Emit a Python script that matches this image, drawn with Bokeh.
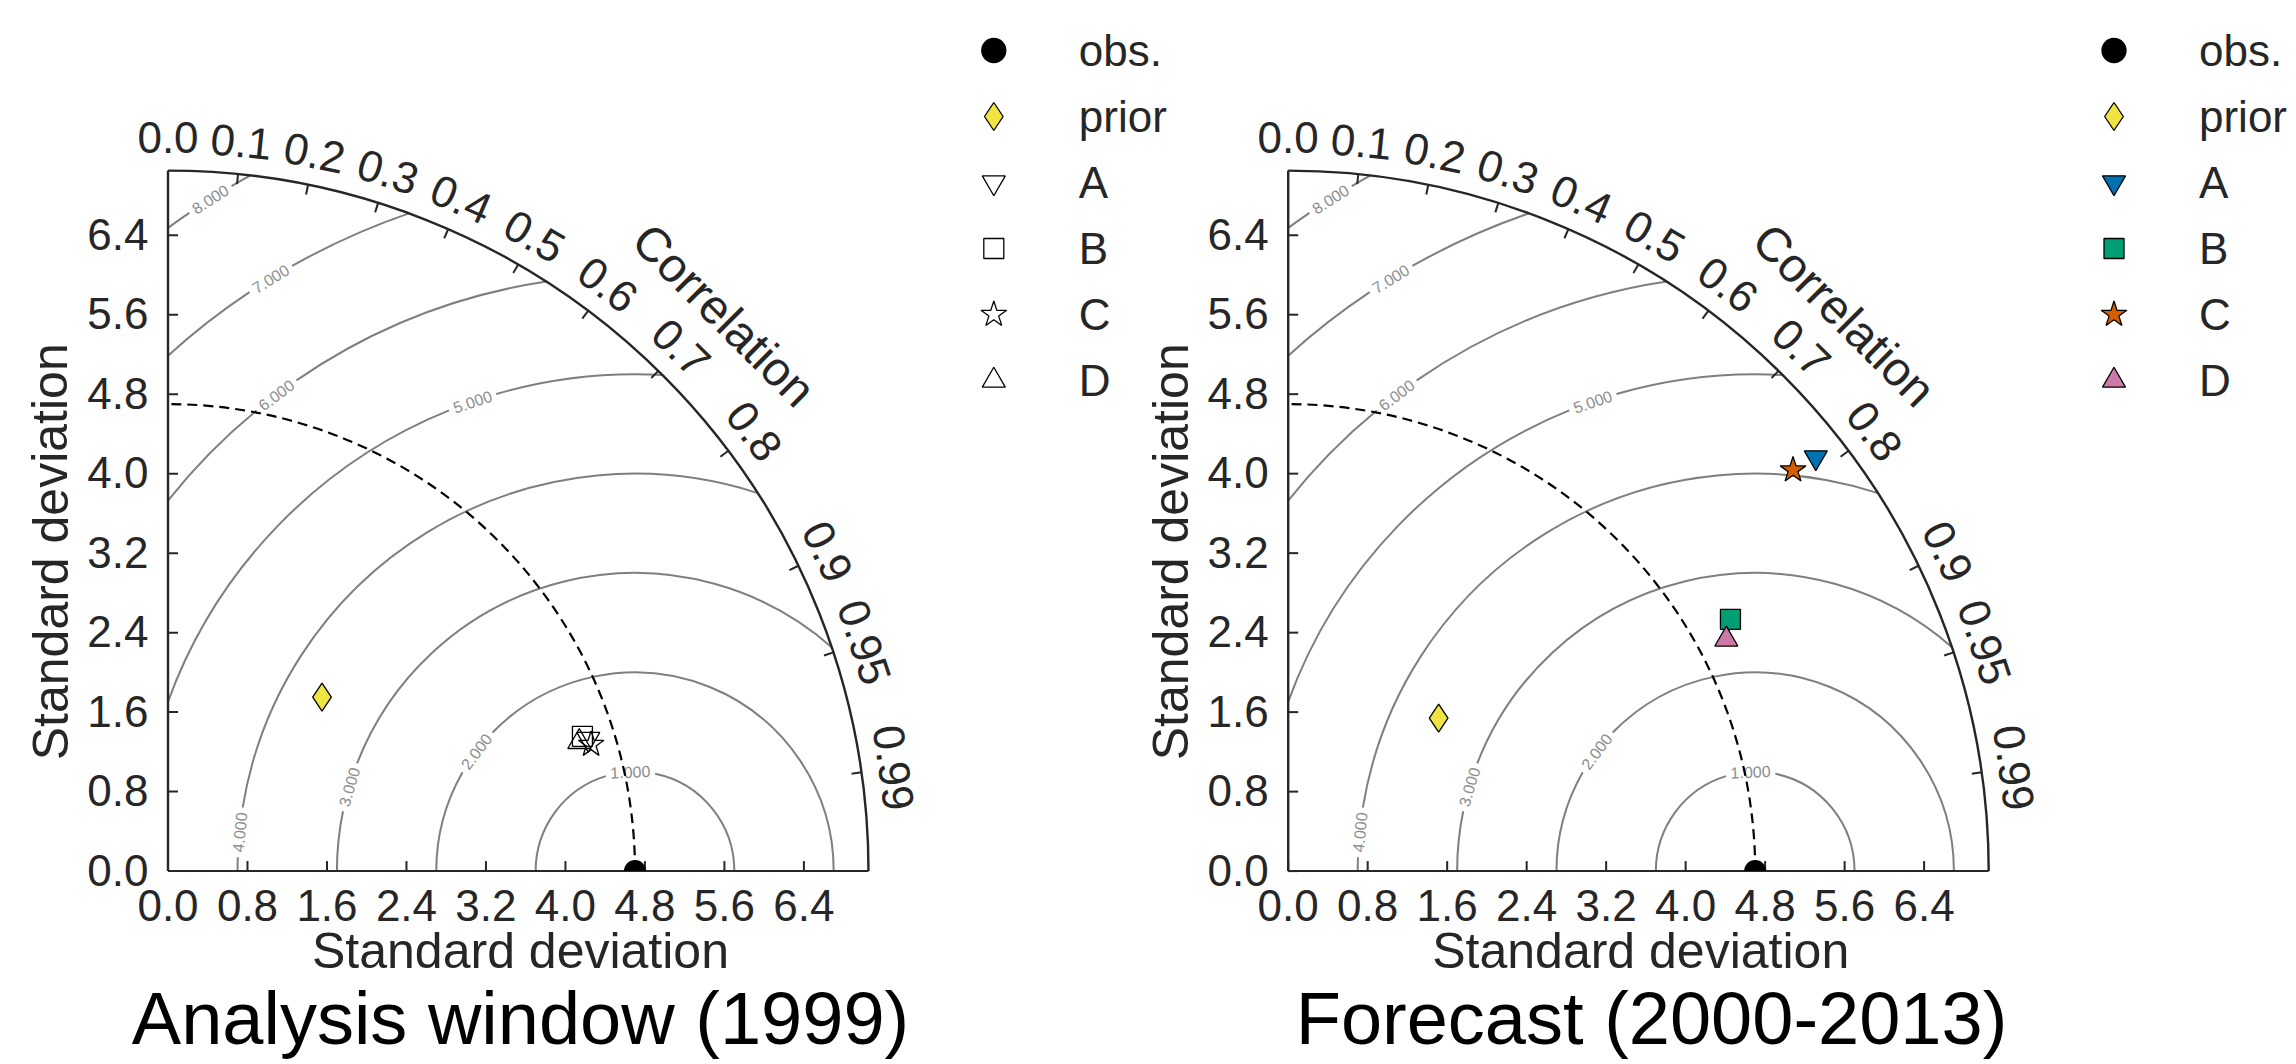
import numpy as np
from bokeh.plotting import figure
from bokeh.models import Range1d
from bokeh.core.properties import value
from bokeh.embed import file_html
from bokeh.resources import INLINE

# ---------------- data ----------------
panel_titles = ["Analysis window (1999)", "Forecast (2000-2013)"]
obs_std = [4.7, 4.7]
std_axis_max = 7.05
std_ticks = [0.0, 0.8, 1.6, 2.4, 3.2, 4.0, 4.8, 5.6, 6.4]
std_tick_labels = ["0.0", "0.8", "1.6", "2.4", "3.2", "4.0", "4.8", "5.6", "6.4"]
corr_ticks = [0.0, 0.1, 0.2, 0.3, 0.4, 0.5, 0.6, 0.7, 0.8, 0.9, 0.95, 0.99]
corr_tick_labels = ["0.0", "0.1", "0.2", "0.3", "0.4", "0.5", "0.6", "0.7", "0.8", "0.9", "0.95", "0.99"]
rms_levels = [1, 2, 3, 4, 5, 6, 7, 8]
rms_level_labels = ["1.000", "2.000", "3.000", "4.000", "5.000", "6.000", "7.000", "8.000"]
legend_names = ["obs.", "prior", "A", "B", "C", "D"]
model_names = ["prior", "A", "B", "C", "D"]
analysis_std = [2.338, 4.434, 4.386, 4.445, 4.339]
analysis_corr = [0.663, 0.954, 0.951, 0.958, 0.954]
forecast_std = [2.160, 6.747, 5.122, 6.489, 4.988]
forecast_corr = [0.701, 0.787, 0.869, 0.783, 0.884]

# ---------------- style / layout ----------------
model_markers = ["diamond", "inverted_triangle", "square", "star", "triangle"]
model_sizes = [28, 23, 20, 27, 23]
forecast_colors = ["#f0e442", "#0072b2", "#009e73", "#d55e00", "#cc79a7"]
analysis_colors = ["#f0e442", "white", "white", "white", "white"]
analysis_alpha = [1, 0, 0, 0, 0]
forecast_alpha = [1, 1, 1, 1, 1]
rms_label_angle_deg = [92.7, 143.0, 163.6, 174.4, 109.1, 127.0, 121.6, 122.3]

FONT = "Liberation Sans"
TXT = "#262626"
W, H = 2294, 1062
S = 99.36                 # pixels per std unit
OL = (167.5, 870.6)       # left origin in page px
OR_X = 1287.7             # right origin x in page px
BSHIFT = 0.38             # baseline compensation (fraction of font size)


def X(px):
    return (px - OL[0]) / S


def Y(py):
    return (OL[1] - py) / S


def L(px):
    return px / S


p = figure(width=W, height=H, x_range=Range1d(X(0), X(W)), y_range=Range1d(Y(H), Y(0)),
           output_backend="svg", toolbar_location=None, min_border=0,
           x_axis_type=None, y_axis_type=None)
p.grid.visible = False
p.outline_line_color = None
p.background_fill_color = "white"
p.border_fill_color = "white"


def txt(x, y, t, fs, color=TXT, align="center", angle=0.0):
    x = np.atleast_1d(np.asarray(x, dtype=float))
    y = np.atleast_1d(np.asarray(y, dtype=float))
    ang = np.broadcast_to(np.asarray(angle, dtype=float), x.shape)
    sh = L(BSHIFT * fs)
    xs = x - sh * np.sin(ang)
    ys = y + sh * np.cos(ang)
    p.text(x=list(xs), y=list(ys), text=list(t), angle=list(ang), text_font=value(FONT),
           text_font_size=value(f"{fs}px"), text_color=color, text_align=align,
           text_baseline="alphabetic")


def panel(k, std_vals, corr_vals, fills, alphas, title_cx):
    ox = 0.0 if k == 0 else X(OR_X)
    R = std_axis_max
    r0 = obs_std[k]

    # RMS contours with label gaps
    cx, cy, rad, a0s, a1s = [], [], [], [], []
    lx, ly, lt, la = [], [], [], []
    for lev, lab, ang in zip(rms_levels, rms_level_labels, rms_label_angle_deg):
        c = (R ** 2 - r0 ** 2 - lev ** 2) / (2 * r0 * lev)
        phi0 = 0.0 if c >= 1 else float(np.arccos(np.clip(c, -1, 1)))
        phi1 = np.pi if lev <= r0 else float(np.arccos(-r0 / lev))
        pa = np.deg2rad(ang)
        half = L(25) / lev
        for s0, s1 in [(phi0, pa - half), (pa + half, phi1)]:
            if s1 > s0:
                cx.append(ox + r0); cy.append(0.0); rad.append(lev); a0s.append(s0); a1s.append(s1)
        lx.append(ox + r0 + lev * np.cos(pa)); ly.append(lev * np.sin(pa))
        lt.append(lab); la.append(pa - np.pi / 2)
    p.arc(x=cx, y=cy, radius=rad, start_angle=a0s, end_angle=a1s,
          line_color="#7f7f7f", line_width=2)
    p.text(x=lx, y=ly, text=lt, angle=la, text_font=value(FONT), text_font_size=value("16px"),
           text_color="#8c8c8c", text_align="center", text_baseline="middle")

    # reference (obs) std arc
    p.arc(x=ox, y=0, radius=r0, start_angle=0, end_angle=np.pi / 2,
          line_color="black", line_width=2.2, line_dash="10 6")

    # axes
    p.arc(x=ox, y=0, radius=R, start_angle=0, end_angle=np.pi / 2, line_color=TXT, line_width=2.4)
    p.segment(x0=[ox, ox], y0=[0, 0], x1=[ox + R, ox], y1=[0, R], line_color=TXT, line_width=[2.0, 2.4])

    tl = L(10)
    st = np.array(std_ticks)
    p.segment(x0=ox + 0 * st, y0=st, x1=ox + tl + 0 * st, y1=st, line_color=TXT, line_width=2)
    p.segment(x0=ox + st, y0=0 * st, x1=ox + st, y1=tl + 0 * st, line_color=TXT, line_width=2)
    th = np.arccos(np.array(corr_ticks[1:]))
    p.segment(x0=ox + R * np.cos(th), y0=R * np.sin(th), x1=ox + (R - tl) * np.cos(th),
              y1=(R - tl) * np.sin(th), line_color=TXT, line_width=2)

    # tick labels
    txt(ox + X(148) + 0 * st, st - L(15.75), std_tick_labels, 44, align="right")
    txt(ox + st, Y(921.5) + 0 * st, std_tick_labels, 44)
    tha = np.arccos(np.array(corr_ticks))
    rb = R + L(16)
    txt(ox + rb * np.cos(tha), rb * np.sin(tha), corr_tick_labels, 44, angle=tha - np.pi / 2)
    rc = R + L(67.5)
    txt([ox + rc * np.cos(np.pi / 4)], [rc * np.sin(np.pi / 4)], ["Correlation"], 48, angle=-np.pi / 4)

    # axis labels and title
    txt([ox + X(520)], [Y(969)], ["Standard deviation"], 50)
    txt([ox + X(69)], [Y(551.3)], ["Standard deviation"], 50, angle=np.pi / 2)
    txt([X(title_cx)], [Y(1046)], [panel_titles[k]], 74, color="black")

    # observation point (clipped at the axis)
    p.wedge(x=ox + r0, y=0, radius=11, radius_units="screen", start_angle=0, end_angle=np.pi,
            fill_color="black", line_color=None)

    # model points
    sv = np.array(std_vals); cv = np.array(corr_vals)
    p.scatter(x=ox + sv * cv, y=sv * np.sqrt(1 - cv ** 2), marker=model_markers, size=model_sizes,
              fill_color=fills, fill_alpha=alphas, line_color="black", line_width=1.3)

    # legend
    ys = np.array([Y(50 + 66 * i) for i in range(len(legend_names))])
    mx = ox + X(993.3)
    p.scatter(x=[mx] * len(legend_names), y=list(ys), marker=["circle"] + model_markers,
              size=[24] + model_sizes, fill_color=["black"] + list(fills),
              fill_alpha=[1] + list(alphas), line_color="black", line_width=1.3)
    txt(ox + X(1078.3) + 0 * ys, ys - L(16.5), legend_names, 44, align="left")


panel(0, analysis_std, analysis_corr, analysis_colors, analysis_alpha, 520)
panel(1, forecast_std, forecast_corr, forecast_colors, forecast_alpha, 1651)

open("out.html", "w").write(file_html(p, INLINE))
